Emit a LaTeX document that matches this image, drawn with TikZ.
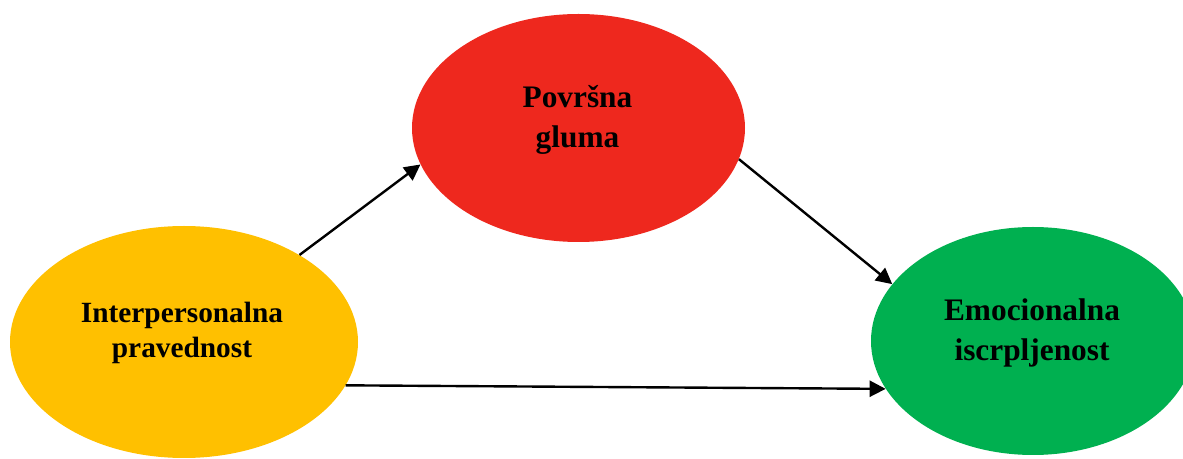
\documentclass[tikz,border=0pt]{standalone}
\usepackage{fontspec}
\setmainfont{Liberation Serif}
\usetikzlibrary{shapes.geometric,arrows.meta}
\definecolor{cyel}{HTML}{FFC000}
\definecolor{cred}{HTML}{EE281E}
\definecolor{cgrn}{HTML}{00B050}
\tikzset{
  blob/.style={ellipse, inner sep=0pt, draw=none},
  lbl/.style={anchor=base, inner sep=0pt, font=\bfseries},
  conn/.style={line width=1.8pt, -{Triangle[length=12pt,width=12pt]}},
}
\begin{document}
\begin{tikzpicture}[x=0.75pt,y=-0.75pt]
\clip (0,0) rectangle (1183,459);
\fill[white] (0,0) rectangle (1183,459);
\node[blob, fill=cyel, minimum width={348*0.75pt}, minimum height={232*0.75pt}] (yel) at (184,342) {};
\node[blob, fill=cred, minimum width={333*0.75pt}, minimum height={228*0.75pt}] (red) at (578.5,128) {};
\node[blob, fill=cgrn, minimum width={324*0.75pt}, minimum height={228*0.75pt}] (grn) at (1033,341) {};
\node[lbl] (tyel) at (182,323) {\fontsize{22pt}{26.25pt}\selectfont\setlength{\tabcolsep}{0pt}\begin{tabular}[t]{c}Interpersonalna\\pravednost\end{tabular}};
\node[lbl] (tred) at (577.5,108) {\fontsize{23.5pt}{30pt}\selectfont\setlength{\tabcolsep}{0pt}\begin{tabular}[t]{c}Površna\\gluma\end{tabular}};
\node[lbl] (tgrn) at (1032,321) {\fontsize{23.5pt}{30pt}\selectfont\setlength{\tabcolsep}{0pt}\begin{tabular}[t]{c}Emocionalna\\iscrpljenost\end{tabular}};
\draw[conn] (yel.37.6) -- (red.193.5);
\draw[conn] (red.349.4) -- (grn.158.6);
\draw[conn] (yel.345.6) -- (grn.198.2);
\end{tikzpicture}
\end{document}
